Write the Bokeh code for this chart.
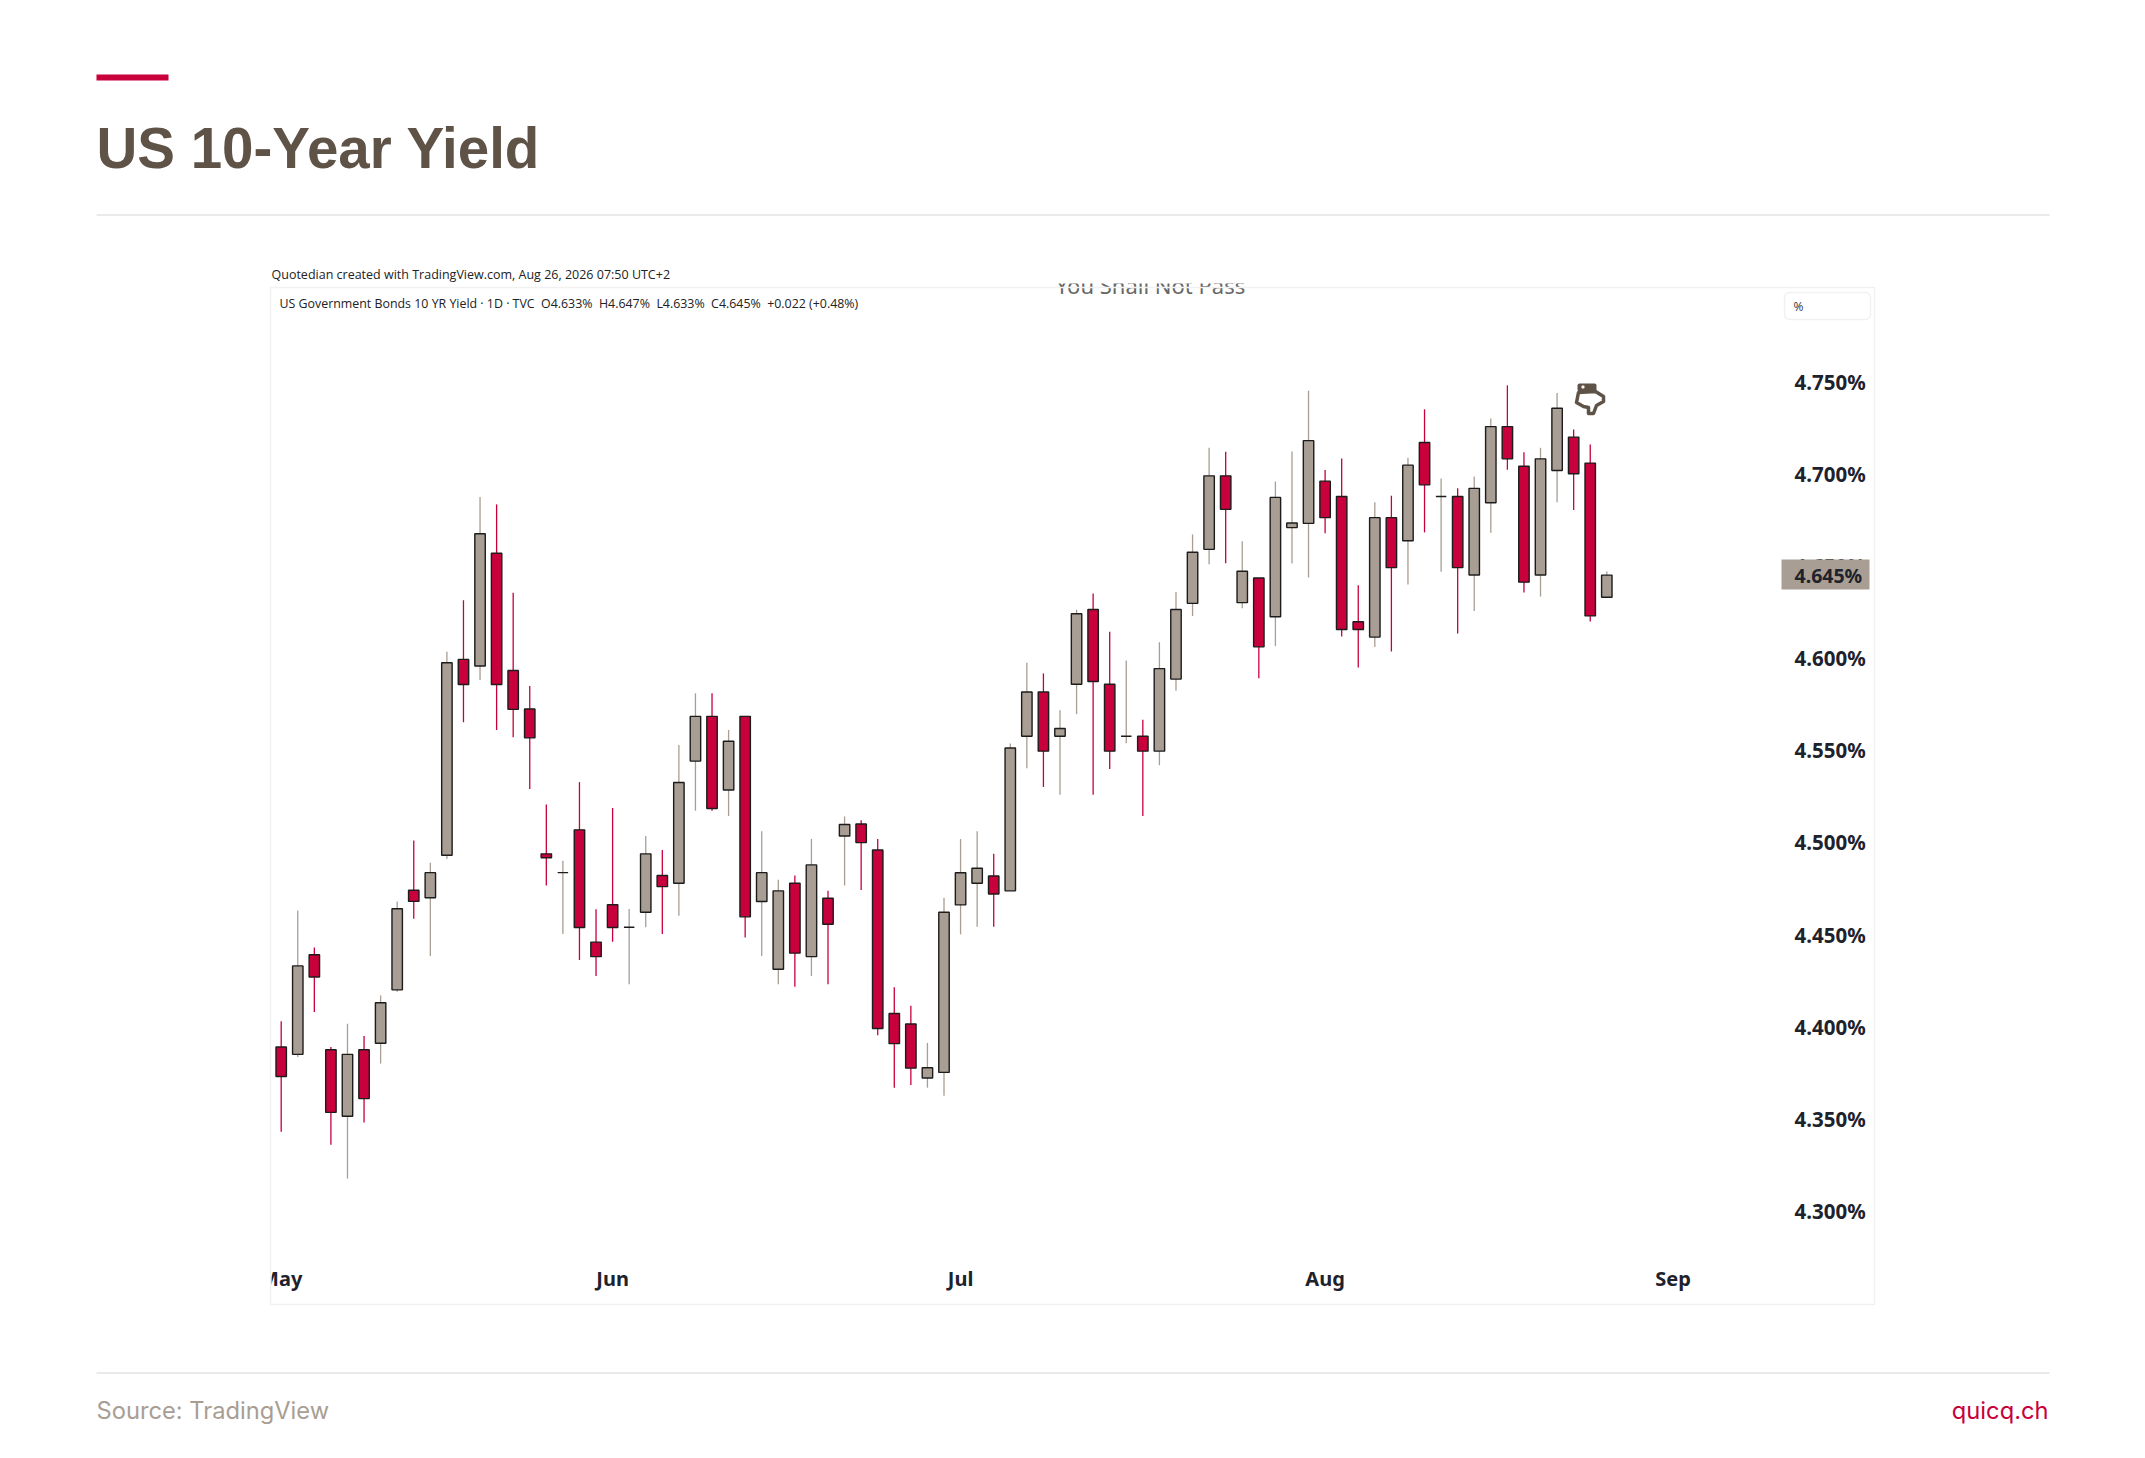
from bokeh.plotting import figure
from bokeh.models import (Range1d, LinearAxis, FixedTicker, PrintfTickFormatter, Label,
                          BoxAnnotation, PolyAnnotation, ColumnDataSource)
from bokeh.embed import file_html
from bokeh.resources import INLINE

# ---- data ---------------------------------------------------------------------
highs = [4.403,4.463,4.443,4.389,4.4016,4.395,4.417,4.468,4.501,4.489,
         4.6034,4.6314,4.6874,4.6834,4.6354,4.5848,4.5205,4.490,4.5327,4.4637,
         4.5187,4.4639,4.5035,4.4959,4.5529,4.5809,4.5809,4.561,4.5684,4.506,
         4.4797,4.482,4.5019,4.4737,4.5141,4.512,4.5018,4.4214,4.4113,4.3912,
         4.4699,4.5018,4.506,4.4938,4.5537,4.5975,4.5917,4.5717,4.6262,4.635,
         4.6143,4.5987,4.5666,4.6086,4.6358,4.6671,4.7141,4.7119,4.6634,4.6435,
         4.6958,4.7121,4.7451,4.702,4.7083,4.6395,4.6845,4.6881,4.7087,4.735,
         4.6975,4.6921,4.6986,4.73,4.748,4.7117,4.7141,4.7439,4.724,4.7159,4.647]
opens = [4.389,4.385,4.439,4.3875,4.3514,4.3875,4.391,4.420,4.474,4.470,
         4.493,4.5993,4.5957,4.6569,4.5933,4.5724,4.4938,4.4836,4.5068,4.4459,
         4.4662,4.454,4.4621,4.482,4.4778,4.5441,4.5684,4.5284,4.5684,4.4679,
         4.4312,4.4778,4.438,4.4697,4.5035,4.51,4.4959,4.4072,4.4015,4.3722,
         4.3752,4.4661,4.4778,4.4818,4.4737,4.5576,4.5816,4.5576,4.5858,4.6264,
         4.5858,4.5576,4.5576,4.5495,4.5886,4.6297,4.659,4.6989,4.6301,4.6435,
         4.6224,4.6708,4.6731,4.696,4.6877,4.6197,4.6114,4.6762,4.6637,4.717,
         4.6877,4.6877,4.6451,4.6843,4.7256,4.7041,4.6451,4.7018,4.7199,4.7058,4.633]
lows = [4.343,4.3836,4.408,4.336,4.3176,4.348,4.380,4.419,4.4586,4.4384,
        4.491,4.5652,4.5881,4.5610,4.5570,4.529,4.4766,4.4503,4.4362,4.4275,
        4.4461,4.4231,4.454,4.4503,4.4602,4.5172,4.5172,4.5143,4.4484,4.4384,
        4.4231,4.4217,4.4275,4.4231,4.4766,4.4742,4.3954,4.3669,4.3684,4.3669,
        4.3625,4.4501,4.4543,4.4543,4.4737,4.5402,4.5301,4.5259,4.5696,4.5259,
        4.5398,4.5538,4.5143,4.5419,4.5823,4.6228,4.6509,4.6514,4.6271,4.589,
        4.6065,4.6513,4.6437,4.6677,4.6117,4.5949,4.606,4.6036,4.6399,4.6682,
        4.6468,4.6134,4.6256,4.668,4.7022,4.6356,4.6334,4.6845,4.6803,4.6199,4.633]
closes = [4.373,4.433,4.427,4.3535,4.385,4.361,4.413,4.464,4.468,4.4836,
          4.5975,4.5857,4.6675,4.5857,4.5722,4.5567,4.4917,4.4836,4.4538,4.438,
          4.4538,4.454,4.4938,4.476,4.5325,4.5684,4.5184,4.5549,4.4596,4.4836,
          4.4737,4.4399,4.4878,4.4556,4.5097,4.4999,4.399,4.3908,4.3775,4.3777,
          4.4621,4.4835,4.486,4.472,4.5512,4.5816,4.5495,4.5618,4.6241,4.5873,
          4.5495,4.5576,4.5495,4.5943,4.6264,4.6574,4.6989,4.6807,4.6471,4.6061,
          4.6872,4.6733,4.718,4.6762,4.6155,4.6155,4.6762,4.6491,4.7047,4.694,
          4.6877,4.6491,4.6921,4.7256,4.7081,4.6412,4.7081,4.7356,4.70,4.6229,4.645]
y_ticks = [4.30,4.35,4.40,4.45,4.50,4.55,4.60,4.65,4.70,4.75]
month_ticks = [0,20,41,63,84]
month_labels = ["May","Jun","Jul","Aug","Sep"]
title = "US 10-Year Yield"
created = "Quotedian created with TradingView.com, Aug 26, 2026 07:50 UTC+2"
legend = "US Government Bonds 10 YR Yield \u00b7 1D \u00b7 TVC\u00a0\u00a0O4.633%\u00a0\u00a0H4.647%\u00a0\u00a0L4.633%\u00a0\u00a0C4.645%\u00a0\u00a0+0.022 (+0.48%)"
last_price = "4.645%"
source_text = "Source: TradingView"
brand = "quicq.ch"

GREY = "#A89E93"
RED = "#C8003C"
BROWN = "#5E5346"
DARK = "#1E222D"
EDGE = "#1c1c1c"

# whole canvas is the plotting frame, so the page chrome can share it
W, H = 2137, 1450
X0, DX = 280.7, 16.57     # page x of first candle, page px per candle
Y430, DY = 1210.5, 1843.0 # page y of 4.30, page px per unit

p = figure(width=W, height=H, output_backend="svg", toolbar_location=None,
           x_range=Range1d((0 - X0) / DX, (W - X0) / DX),
           y_range=Range1d(4.30 + (Y430 - H) / DY, 4.30 + Y430 / DY),
           min_border=0, x_axis_location=None, y_axis_location=None,
           background_fill_color="white", border_fill_color="white")
p.outline_line_color = None
p.grid.visible = False

xs = list(range(len(opens)))
up = ColumnDataSource(dict(
    x=[i for i in xs if closes[i] >= opens[i]],
    o=[opens[i] for i in xs if closes[i] >= opens[i]],
    c=[closes[i] for i in xs if closes[i] >= opens[i]],
    h=[highs[i] for i in xs if closes[i] >= opens[i]],
    l=[lows[i] for i in xs if closes[i] >= opens[i]]))
down = ColumnDataSource(dict(
    x=[i for i in xs if closes[i] < opens[i]],
    o=[opens[i] for i in xs if closes[i] < opens[i]],
    c=[closes[i] for i in xs if closes[i] < opens[i]],
    h=[highs[i] for i in xs if closes[i] < opens[i]],
    l=[lows[i] for i in xs if closes[i] < opens[i]]))

for src, col in ((up, GREY), (down, RED)):
    p.segment(x0="x", y0="l", x1="x", y1="h", source=src, line_color=col, line_width=1.3)
    p.vbar(x="x", bottom="o", top="c", width=0.63, source=src, fill_color=col,
           line_color=EDGE, line_width=1.4)

ax_r = LinearAxis(ticker=FixedTicker(ticks=y_ticks),
                  formatter=PrintfTickFormatter(format="%.3f%%"),
                  fixed_location=(1783 - X0) / DX)
ax_r.axis_line_color = None
ax_r.major_tick_line_color = None
ax_r.minor_tick_line_color = None
ax_r.major_label_standoff = 5
ax_r.major_label_text_font = "Noto Sans"
ax_r.major_label_text_font_size = "20.5px"
ax_r.major_label_text_font_style = "bold"
ax_r.major_label_text_color = DARK
p.add_layout(ax_r, "right")

ax_b = LinearAxis(ticker=FixedTicker(ticks=month_ticks),
                  major_label_overrides=dict(zip(month_ticks, month_labels)),
                  fixed_location=4.30 + (Y430 - 1251) / DY)
ax_b.axis_line_color = None
ax_b.major_tick_line_color = None
ax_b.minor_tick_line_color = None
ax_b.major_label_standoff = 7
ax_b.major_label_text_font = "Noto Sans"
ax_b.major_label_text_font_size = "20px"
ax_b.major_label_text_font_style = "bold"
ax_b.major_label_text_color = DARK
p.add_layout(ax_b, "below")

def sy(y): return H - y

def box(l, t, r, b, fill=None, line=None, lw=1, radius=0, level="annotation"):
    a = BoxAnnotation(left=l, right=r, top=sy(t), bottom=sy(b),
                      left_units="screen", right_units="screen",
                      top_units="screen", bottom_units="screen",
                      fill_color=fill, fill_alpha=1.0 if fill else 0.0,
                      line_color=line, line_alpha=1.0 if line else 0.0, line_width=lw,
                      border_radius=radius, level=level, editable=False)
    p.add_layout(a)
    return a

def text(x, y, s, font, size, color, align="left", baseline="alphabetic", style="normal", level="annotation"):
    l = Label(x=x, y=sy(y), x_units="screen", y_units="screen", text=s,
              text_font=font, text_font_size=f"{size}px", text_color=color,
              text_align=align, text_baseline=baseline, text_font_style=style, level=level)
    p.add_layout(l)
    return l

# clipped text at the top of the screenshot
text(1150, 284, "You Shall Not Pass", "Noto Sans", 22, "#666666", align="center", baseline="middle")
box(900, 240, 1400, 283, fill="white")
# mask left of the screenshot: clips the May label
box(200, 1245, 271, 1304, fill="white")

# header
box(96, 74, 168, 80, fill=RED)
text(96, 148, title, "Liberation Sans", 56.5, BROWN, style="bold", baseline="middle")
box(96, 214, 2049, 215, fill="#D6D6D6")

# screenshot frame
box(270, 287, 1874, 1304, line="#F1F1F1", lw=1.5, level="overlay")
text(271, 274, created, "Open Sans", 12.5, "#222222", baseline="middle")
text(279, 303, legend, "Open Sans", 12.4, "#222222", baseline="middle")

# unit button
box(1784, 292, 1870, 319, line="#F1F1F1", lw=1.5, radius=5)
text(1793, 306, "%", "Open Sans", 12, "#333333", baseline="middle")

# last price tag
box(1781, 559, 1869, 589, fill=GREY, level="overlay")
text(1794, 575, last_price, "Noto Sans", 19.5, DARK, baseline="middle", style="bold", level="overlay")

# hand marker, drawn as an outline with a solid cuff
hand_x = [1578, 1576, 1583, 1588, 1588, 1593, 1596, 1603, 1603, 1595]
hand_y = [392, 402, 406, 407, 413, 413, 405, 401, 396, 391]
p.add_layout(PolyAnnotation(xs=hand_x, ys=[sy(v) for v in hand_y], xs_units="screen", ys_units="screen",
                            fill_color="white", fill_alpha=1.0, line_color=BROWN, line_alpha=1.0,
                            line_width=3.5, line_join="round", editable=False))
box(1577, 383, 1596, 391, fill=BROWN, radius=2)
box(1581, 385, 1584, 388, fill="white", radius=1)

# footer
box(96, 1372, 2049, 1373, fill="#D6D6D6")
text(96, 1410, source_text, "Inter", 23.7, GREY, baseline="middle")
text(2048, 1410, brand, "Inter", 23.7, RED, align="right", baseline="middle")

open("out.html", "w").write(file_html(p, INLINE))
